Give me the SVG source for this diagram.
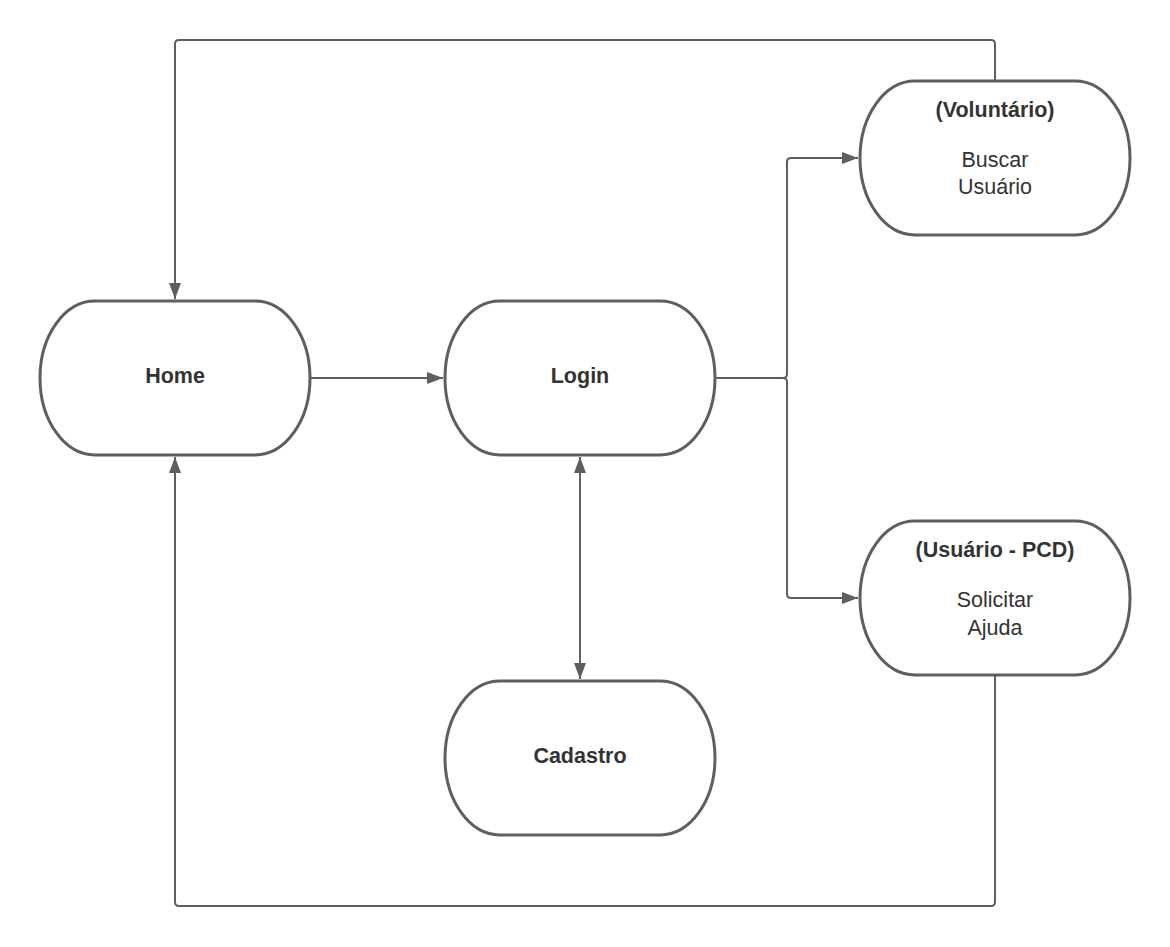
<svg xmlns="http://www.w3.org/2000/svg" width="1170" height="947" viewBox="0 0 1170 947">
<defs>
<marker id="ah" viewBox="0 0 16 12" refX="16" refY="6" markerWidth="16" markerHeight="12" markerUnits="userSpaceOnUse" orient="auto-start-reverse">
<path d="M0,0 L16,6 L0,12 Z" fill="#5e5e5e"/>
</marker>
<style>
.node{fill:#ffffff;stroke:#5e5e5e;stroke-width:3}
.conn{fill:none;stroke:#5e5e5e;stroke-width:2;stroke-linejoin:round}
.t{font-family:"Liberation Sans",Arial,sans-serif;font-size:21.5px;fill:#333333;text-anchor:middle}
.b{font-weight:bold}
</style>
</defs>
<rect width="1170" height="947" fill="#ffffff"/>
<g id="connectors">
<path class="conn" d="M311,378 H443" marker-end="url(#ah)"/>
<path class="conn" d="M715,378 H783 Q787,378 787,374 V162 Q787,158 791,158 H858" marker-end="url(#ah)"/>
<path class="conn" d="M715,378 H783 Q787,378 787,382 V594 Q787,598 791,598 H858" marker-end="url(#ah)"/>
<path class="conn" d="M580,457 V679" marker-start="url(#ah)" marker-end="url(#ah)"/>
<path class="conn" d="M995,81 V44 Q995,40 991,40 H179 Q175,40 175,44 V299" marker-end="url(#ah)"/>
<path class="conn" d="M995,675 V902 Q995,906 991,906 H179 Q175,906 175,902 V457" marker-end="url(#ah)"/>
</g>
<g id="home">
<rect class="node" x="40" y="301" width="270" height="154" rx="55" ry="77"/>
<text class="t b" x="175" y="383">Home</text>
</g>
<g id="login">
<rect class="node" x="445" y="301" width="270" height="154" rx="55" ry="77"/>
<text class="t b" x="580" y="383">Login</text>
</g>
<g id="cadastro">
<rect class="node" x="445" y="681" width="270" height="154" rx="55" ry="77"/>
<text class="t b" x="580" y="763">Cadastro</text>
</g>
<g id="voluntario">
<rect class="node" x="860" y="81" width="270" height="154" rx="55" ry="77"/>
<text class="t b" x="995" y="117">(Voluntário)</text>
<text class="t" x="995" y="167">Buscar</text>
<text class="t" x="995" y="194">Usuário</text>
</g>
<g id="usuario">
<rect class="node" x="860" y="521" width="270" height="154" rx="55" ry="77"/>
<text class="t b" x="995" y="557">(Usuário - PCD)</text>
<text class="t" x="995" y="607">Solicitar</text>
<text class="t" x="995" y="635">Ajuda</text>
</g>
</svg>
